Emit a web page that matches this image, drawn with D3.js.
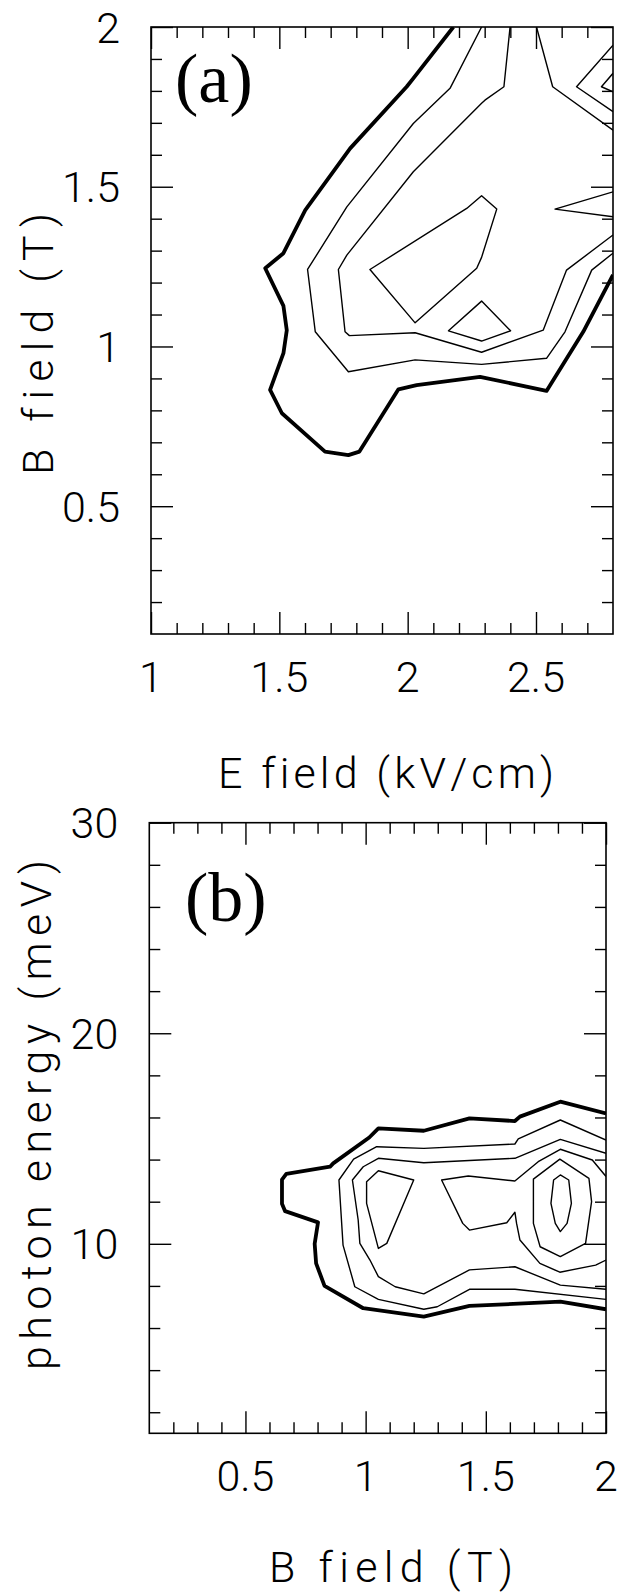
<!DOCTYPE html>
<html><head><meta charset="utf-8">
<script src="https://cdn.jsdelivr.net/npm/d3@7"></script>
<style>
body{margin:0;background:#fff;}
svg{display:block;}
.num,.ttl{font-family:Roboto,"Open Sans",sans-serif;font-weight:300;font-size:43px;fill:#000;
  font-variant-ligatures:none;font-feature-settings:"liga" 0,"clig" 0;}
.tag{font-family:"Liberation Serif","Times New Roman",serif;font-size:70px;fill:#000;}
</style></head><body>
<svg id="c" width="628" height="1593"></svg>
<script>
// ---------- data ----------
const aXTicks=[1,1.5,2,2.5];
const aYTicks=[0.5,1,1.5,2];
const bXTicks=[0.5,1,1.5,2];
const bYTicks=[10,20,30];

// panel (a): [E field kV/cm, B field T]
const aContours=[
 {thick:true,closed:false,pts:[[2.178,2.0],[2.022,1.839],[1.996,1.813],[1.776,1.620],[1.601,1.427],[1.516,1.292],[1.445,1.245],[1.516,1.127],[1.529,1.051],[1.516,0.979],[1.464,0.864],[1.510,0.791],[1.678,0.671],[1.769,0.660],[1.812,0.671],[1.964,0.866],[2.035,0.879],[2.282,0.905],[2.541,0.861],[2.684,1.046],[2.80,1.224]]},
 {thick:false,closed:false,pts:[[2.288,2.0],[2.165,1.808],[2.022,1.698],[1.763,1.437],[1.610,1.241],[1.640,1.046],[1.769,0.921],[2.029,0.958],[2.288,0.944],[2.541,0.963],[2.613,1.046],[2.717,1.239],[2.80,1.292]]},
 {thick:false,closed:false,pts:[[2.399,2.0],[2.375,1.813],[2.301,1.771],[2.288,1.761],[2.022,1.547],[1.763,1.286],[1.730,1.241],[1.756,1.046],[1.773,1.034],[2.029,1.043],[2.288,0.982],[2.528,1.051],[2.619,1.239],[2.80,1.349]]},
 {thick:false,closed:false,pts:[[2.502,2.0],[2.565,1.813],[2.80,1.677]]},
 {thick:false,closed:true,pts:[[1.853,1.241],[2.230,1.432],[2.288,1.472],[2.347,1.430],[2.288,1.279],[2.269,1.245],[2.029,1.074]]},
 {thick:false,closed:true,pts:[[2.159,1.049],[2.288,1.142],[2.401,1.049],[2.288,1.017]]},
 {thick:false,closed:false,pts:[[2.80,1.943],[2.658,1.813],[2.80,1.735]]},
 {thick:false,closed:false,pts:[[2.80,1.855],[2.755,1.813],[2.80,1.797]]},
 {thick:false,closed:false,pts:[[2.80,1.484],[2.574,1.430],[2.80,1.406]]}
];

// panel (b): [B field T, photon energy meV]
const bContours=[
 {thick:true,closed:false,pts:[[2.0,16.19],[1.810,16.75],[1.642,16.04],[1.621,15.83],[1.432,15.96],[1.242,15.37],[1.053,15.48],[1.015,15.05],[0.865,13.82],[0.852,13.66],[0.670,13.32],[0.652,13.05],[0.652,11.90],[0.665,11.55],[0.802,11.02],[0.788,10.0],[0.794,9.07],[0.829,8.00],[0.990,6.94],[1.242,6.54],[1.432,7.05],[1.810,7.25],[2.0,6.89]]},
 {thick:false,closed:false,pts:[[2.0,14.93],[1.810,15.88],[1.635,14.98],[1.621,14.74],[1.242,14.53],[1.046,14.61],[0.950,14.02],[0.889,13.03],[0.906,9.94],[0.955,7.96],[1.053,7.36],[1.242,6.89],[1.298,7.01],[1.432,7.84],[1.621,7.84],[2.0,7.36]]},
 {thick:false,closed:false,pts:[[2.0,14.30],[1.810,14.96],[1.621,14.06],[1.242,13.85],[1.053,14.06],[0.990,13.66],[0.945,13.03],[0.969,11.13],[0.976,10.02],[1.018,9.23],[1.053,8.44],[1.123,7.96],[1.242,7.62],[1.432,8.76],[1.621,8.91],[1.810,8.04],[2.0,7.84]]},
 {thick:false,closed:false,pts:[[2.0,13.2],[1.943,13.98],[1.810,14.49],[1.718,13.9],[1.621,12.98],[1.427,13.22],[1.316,13.03],[1.404,10.97],[1.432,10.65],[1.587,11.00],[1.621,11.5],[1.628,10.97],[1.642,10.18],[1.725,9.07],[1.808,8.65],[1.957,8.99],[2.0,9.23]]},
 {thick:false,closed:true,pts:[[1.053,13.47],[1.200,13.03],[1.088,10.02],[1.053,9.78],[1.004,11.92],[1.004,12.95]]},
 {thick:false,closed:true,pts:[[1.808,14.02],[1.929,13.11],[1.940,12.0],[1.915,10.02],[1.810,9.39],[1.726,9.86],[1.698,10.97],[1.698,13.07]]},
 {thick:false,closed:true,pts:[[1.810,13.27],[1.845,13.03],[1.856,11.92],[1.838,10.97],[1.810,10.58],[1.789,10.97],[1.771,11.92],[1.782,13.03]]}
];

const minorA_x=d3.range(11,28).map(v=>v/10).filter(v=>!aXTicks.includes(v));
const minorA_y=d3.range(2,20).map(v=>v/10).filter(v=>!aYTicks.includes(v));
const minorB_x=d3.range(2,20).map(v=>v/10).filter(v=>!bXTicks.includes(v));
const minorB_y=d3.range(2,30,2).filter(v=>!bYTicks.includes(v));

// ---------- drawing ----------
const svg=d3.select('#c');

function panel(cfg){
  const x=d3.scaleLinear().domain(cfg.xDomain).range([cfg.left,cfg.right]);
  const y=d3.scaleLinear().domain(cfg.yDomain).range([cfg.bottom,cfg.top]);
  const id='clip'+cfg.name;
  svg.append('clipPath').attr('id',id).append('rect')
    .attr('x',cfg.left).attr('y',cfg.top).attr('width',cfg.right-cfg.left).attr('height',cfg.bottom-cfg.top);
  const line=d3.line().x(d=>x(d[0])).y(d=>y(d[1]));
  svg.append('g').attr('clip-path',`url(#${id})`)
    .selectAll('path').data(cfg.contours).join('path')
    .attr('d',d=>line(d.pts)+(d.closed?'Z':''))
    .attr('fill','none').attr('stroke','#000')
    .attr('stroke-width',d=>d.thick?3.8:1.4)
    .attr('stroke-linejoin','round').attr('stroke-linecap','butt');

  const ax=(fn,scale,vals,size,tx,ty)=>{
    const g=svg.append('g').attr('transform',`translate(${tx},${ty})`)
      .call(fn(scale).tickValues(vals).tickSize(size).tickSizeOuter(0).tickFormat(''));
    g.select('.domain').remove();
    g.selectAll('line').attr('stroke','#000').attr('stroke-width',1.4);
  };
  [[cfg.xMajor,-22],[cfg.xMinor,-11]].forEach(([v,s])=>{
    ax(d3.axisBottom,x,v,s,0,cfg.bottom);
    ax(d3.axisTop,x,v,s,0,cfg.top);
  });
  [[cfg.yMajor,-22],[cfg.yMinor,-11]].forEach(([v,s])=>{
    ax(d3.axisLeft,y,v,s,cfg.left,0);
    ax(d3.axisRight,y,v,s,cfg.right,0);
  });
  svg.append('rect').attr('x',cfg.left).attr('y',cfg.top)
    .attr('width',cfg.right-cfg.left).attr('height',cfg.bottom-cfg.top)
    .attr('fill','none').attr('stroke','#000').attr('stroke-width',1.6);

  svg.append('g').selectAll('text').data(cfg.xMajor).join('text').attr('class','num')
    .attr('x',d=>x(d)).attr('y',cfg.bottom+58).attr('text-anchor','middle').text(d=>d);
  svg.append('g').selectAll('text').data(cfg.yMajor).join('text').attr('class','num')
    .attr('x',cfg.left-31).attr('y',d=>y(d)+15.5).attr('text-anchor','end').text(d=>d);

  svg.append('text').attr('class','ttl').attr('text-anchor','middle')
    .attr('x',cfg.xTitleX).attr('y',cfg.xTitleY)
    .attr('textLength',cfg.xTitleLen).attr('lengthAdjust','spacing').text(cfg.xTitle);
  svg.append('text').attr('class','ttl').attr('text-anchor','middle')
    .attr('transform',`translate(${cfg.yTitleX},${cfg.yTitleY}) rotate(-90)`)
    .attr('textLength',cfg.yTitleLen).attr('lengthAdjust','spacing').text(cfg.yTitle);
  svg.append('text').attr('class','tag').attr('x',cfg.tagX).attr('y',cfg.tagY).text(cfg.tag);
}

panel({name:'a',xDomain:[1,2.8],yDomain:[0.1,2],left:151,right:613,top:27,bottom:634,
  contours:aContours,xMajor:aXTicks,xMinor:minorA_x,yMajor:aYTicks,yMinor:minorA_y,
  xTitle:'E field (kV/cm)',xTitleX:386,xTitleY:788,xTitleLen:336,
  yTitle:'B field (T)',yTitleX:53,yTitleY:344,yTitleLen:262,tag:'(a)',tagX:175,tagY:102});

panel({name:'b',xDomain:[0.1,2],yDomain:[1,30],left:149.3,right:606,top:822.7,bottom:1433.3,
  contours:bContours,xMajor:bXTicks,xMinor:minorB_x,yMajor:bYTicks,yMinor:minorB_y,
  xTitle:'B field (T)',xTitleX:391,xTitleY:1582,xTitleLen:244,
  yTitle:'photon energy (meV)',yTitleX:51,yTitleY:1115,yTitleLen:510,tag:'(b)',tagX:185,tagY:921});
</script>
</body></html>
